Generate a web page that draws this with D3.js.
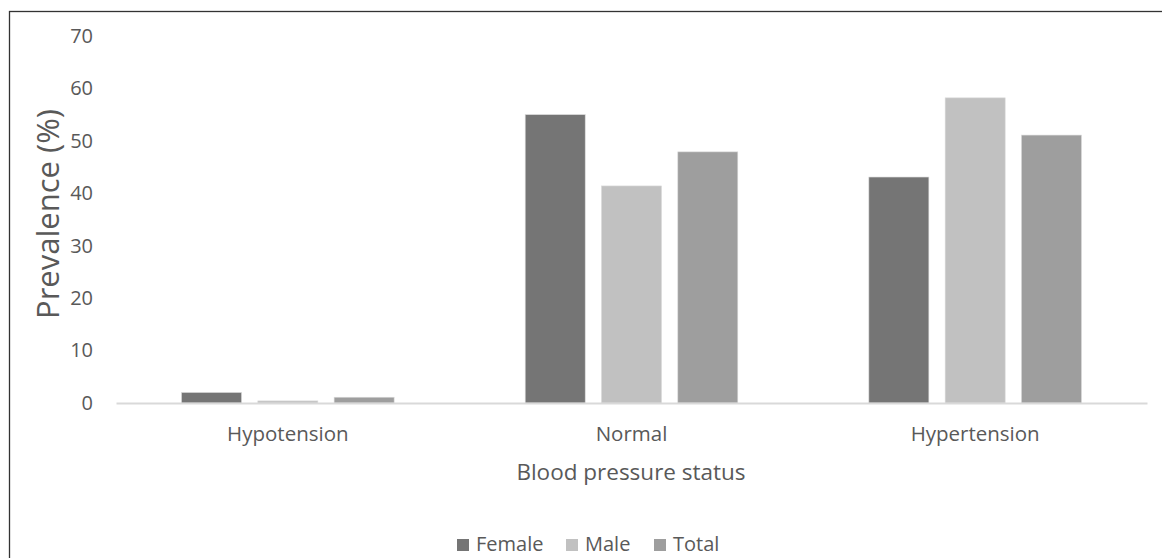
<!DOCTYPE html>
<html><head><meta charset="utf-8">
<script src="https://cdn.jsdelivr.net/npm/d3@7"></script>
<style>html,body{margin:0;padding:0;background:#fff;overflow:hidden}</style>
</head><body>
<svg id="c" width="1162" height="558"></svg>
<script>
const categories = ["Hypotension", "Normal", "Hypertension"];
const seriesNames = ["Female", "Male", "Total"];
const female = [2.0, 55.0, 43.1];
const male = [0.4, 41.4, 58.2];
const total = [1.1, 47.9, 51.1];
const yTicks = [0, 10, 20, 30, 40, 50, 60, 70];
const colors = ["#757575", "#c1c1c1", "#9e9e9e"];

(function () {
const seriesValues = [female, male, total];
const svg = d3.select("#c");
const font = "'Open Sans', sans-serif";
const textColor = "#595959";

// outer frame (only top/left visible)
svg.append("rect").attr("x", 9.5).attr("y", 11.5).attr("width", 1200).attr("height", 600)
  .attr("fill", "none").attr("stroke", "#333").attr("stroke-width", 1.3);

const pLeft = 116, pRight = 1147, pTop = 36, pBottom = 403;
const y = d3.scaleLinear().domain([0, 70]).range([pBottom, pTop]);
const x0 = d3.scaleBand().domain(categories).range([pLeft, pRight]).paddingInner(0).paddingOuter(0);
const bw = 60, step = 76.3;

// y tick labels
const yAxis = d3.axisLeft(y).tickValues(yTicks).tickSize(0).tickPadding(0);
const gy = svg.append("g").attr("transform", "translate(93,0)").call(yAxis);
gy.select(".domain").remove();
gy.selectAll("text").attr("font-family", font).attr("font-size", 20).attr("fill", textColor);

// bars
const g = svg.append("g");
categories.forEach((c, i) => {
  const cx = x0(c) + x0.bandwidth() / 2;
  seriesValues.forEach((vals, s) => {
    const xs = cx + (s - 1) * step - bw / 2;
    g.append("rect").attr("x", xs).attr("y", y(vals[i])).attr("width", bw)
      .attr("height", y(0) - y(vals[i])).attr("fill", colors[s])
      .attr("stroke", "#d9d9d9").attr("stroke-width", 0.6);
  });
});

// x axis
const xAxis = d3.axisBottom(x0).tickSize(0).tickPadding(0);
const gx = svg.append("g").attr("transform", `translate(0,${pBottom})`).call(xAxis);
gx.select(".domain").attr("stroke", "#d9d9d9").attr("stroke-width", 2);
gx.selectAll("text").attr("font-family", font).attr("font-size", 20.5).attr("fill", textColor)
  .attr("dy", null).attr("y", 38);

// axis titles
svg.append("text").attr("x", 631).attr("y", 480).attr("text-anchor", "middle")
  .attr("font-family", font).attr("font-size", 22.5).attr("fill", textColor).text("Blood pressure status");
svg.append("text").attr("transform", "translate(59,214) rotate(-90)").attr("text-anchor", "middle")
  .attr("font-family", font).attr("font-size", 31).attr("fill", textColor).text("Prevalence (%)");

// legend
const legendX = [457, 566, 654];
seriesNames.forEach((n, s) => {
  svg.append("rect").attr("x", legendX[s]).attr("y", 539).attr("width", 12).attr("height", 12).attr("fill", colors[s]);
  svg.append("text").attr("x", legendX[s] + 19).attr("y", 551).attr("font-family", font)
    .attr("font-size", 20).attr("fill", textColor).text(n);
});
})();
</script>
</body></html>
